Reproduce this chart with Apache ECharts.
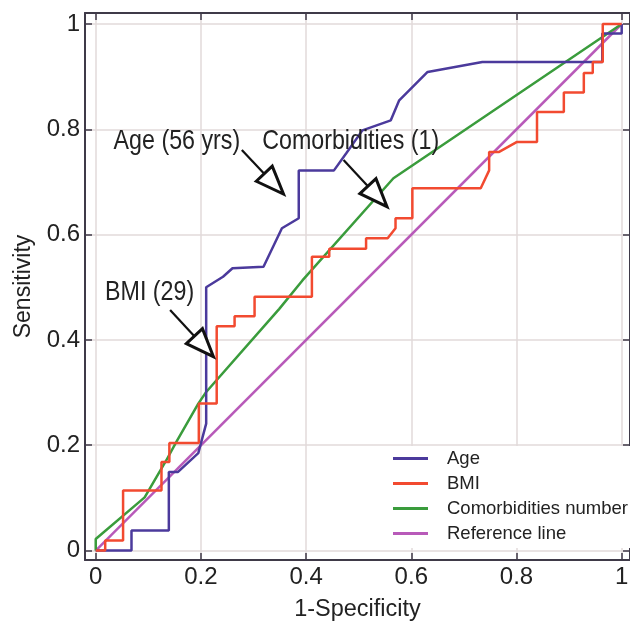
<!DOCTYPE html>
<html>
<head>
<meta charset="utf-8">
<script src="https://cdn.jsdelivr.net/npm/echarts@6/dist/echarts.min.js"></script>
<style>
  html, body { margin: 0; padding: 0; background: #fff; }
  #main { width: 630px; height: 623px; }
</style>
</head>
<body>
<div id="main"></div>
<script>
// ROC curves: 1-Specificity (x) vs Sensitivity (y)
const tickValues = [0, 0.2, 0.4, 0.6, 0.8, 1]

const ageX = [0, 0.068, 0.068, 0.139, 0.139, 0.156, 0.195, 0.21, 0.21, 0.242, 0.26, 0.319, 0.354, 0.386, 0.386, 0.453, 0.476, 0.507, 0.561, 0.577, 0.631, 0.735, 0.963, 0.963, 1, 1]
const ageY = [0, 0, 0.038, 0.038, 0.149, 0.149, 0.185, 0.241, 0.50, 0.52, 0.536, 0.539, 0.612, 0.631, 0.722, 0.722, 0.754, 0.798, 0.817, 0.855, 0.909, 0.928, 0.928, 0.982, 0.982, 1]

const bmiX = [0, 0.018, 0.018, 0.052, 0.052, 0.125, 0.125, 0.140, 0.140, 0.196, 0.196, 0.230, 0.230, 0.264, 0.264, 0.302, 0.302, 0.411, 0.411, 0.444, 0.444, 0.514, 0.514, 0.555, 0.570, 0.570, 0.602, 0.602, 0.732, 0.748, 0.748, 0.767, 0.801, 0.839, 0.839, 0.890, 0.890, 0.928, 0.928, 0.945, 0.945, 0.964, 0.964, 1]
const bmiY = [0, 0, 0.019, 0.019, 0.114, 0.114, 0.168, 0.168, 0.204, 0.204, 0.279, 0.279, 0.426, 0.426, 0.445, 0.445, 0.482, 0.482, 0.558, 0.558, 0.573, 0.573, 0.593, 0.593, 0.612, 0.631, 0.631, 0.688, 0.688, 0.722, 0.757, 0.757, 0.776, 0.776, 0.833, 0.833, 0.870, 0.870, 0.907, 0.907, 0.928, 0.928, 1, 1]

const comX = [0, 0, 0.093, 0.134, 0.153, 0.195, 0.21, 0.349, 0.393, 0.566, 1]
const comY = [0, 0.022, 0.101, 0.171, 0.206, 0.279, 0.301, 0.459, 0.513, 0.707, 1]

const refX = [0, 1]
const refY = [0, 1]

// annotations: label, label anchor, arrow start, arrow tip (data coords)
const noteLabels = ['Age (56 yrs)', 'Comorbidities (1)', 'BMI (29)']
const noteTextPos = [[0.2746, 0.778], [0.3165, 0.778], [0.0177, 0.49]]
const noteAlign = ['right', 'left', 'left']
const arrowStart = [[0.2778, 0.7607], [0.4712, 0.7417], [0.1414, 0.4568]]
const arrowTip = [[0.357, 0.6771], [0.5538, 0.653], [0.2238, 0.3681]]

const zip = (xs, ys) => xs.map((x, i) => [x, ys[i]])

const FONT = "'Liberation Sans', Arial, sans-serif"
const frameColor = '#3f3a48'
const gridColor = '#e2dada'

const chart = echarts.init(document.getElementById('main'))

const baseAxis = {
  type: 'value',
  axisLine: { show: true, onZero: false, lineStyle: { color: frameColor, width: 2 } },
  axisTick: { show: true, inside: true, length: 7, customValues: tickValues, lineStyle: { color: frameColor, width: 1.5 } }
}

chart.setOption({
  animation: false,
  grid: { left: 85, right: 0, top: 13, bottom: 63, outerBoundsMode: 'none', containLabel: false },
  xAxis: [
    Object.assign({}, baseAxis, {
      min: -0.0204,
      max: 1.0158,
      name: '1-Specificity',
      nameLocation: 'middle',
      nameGap: 38,
      nameTextStyle: { fontFamily: FONT, fontSize: 23.5, color: '#222' },
      axisLabel: { customValues: tickValues, margin: 5, fontFamily: FONT, fontSize: 24, color: '#222' },
      splitLine: { show: true, lineStyle: { color: gridColor, width: 1.5 } }
    }),
    Object.assign({}, baseAxis, {
      position: 'top', min: -0.0204, max: 1.0158,
      axisLabel: { show: false }, splitLine: { show: false }
    })
  ],
  yAxis: [
    Object.assign({}, baseAxis, {
      min: -0.018,
      max: 1.0209,
      name: 'Sensitivity',
      nameLocation: 'middle',
      nameRotate: 90,
      nameGap: 50,
      nameTextStyle: { fontFamily: FONT, fontSize: 23, color: '#222' },
      axisLabel: { customValues: tickValues, margin: 5, fontFamily: FONT, fontSize: 24, color: '#222' },
      splitLine: { show: true, lineStyle: { color: gridColor, width: 1.5 } }
    }),
    Object.assign({}, baseAxis, {
      position: 'right', min: -0.018, max: 1.0209,
      axisLabel: { show: false }, splitLine: { show: false }
    })
  ],
  legend: {
    orient: 'vertical',
    left: 383,
    top: 446,
    padding: [0, 4, 2, 10],
    backgroundColor: '#fff',
    icon: 'rect',
    itemWidth: 35,
    itemHeight: 3,
    itemGap: 0,
    itemStyle: { borderWidth: 0 },
    textStyle: { fontFamily: FONT, fontSize: 18.5, lineHeight: 25, color: '#222', padding: [0, 0, 0, 14] },
    data: ['Age', 'BMI', 'Comorbidities number', 'Reference line']
  },
  series: [
    { name: 'Age', type: 'line', showSymbol: false, data: zip(ageX, ageY), color: '#4b3a9c', lineStyle: { width: 2.5 }, z: 4 },
    { name: 'BMI', type: 'line', showSymbol: false, data: zip(bmiX, bmiY), color: '#f24a30', lineStyle: { width: 2.5 }, z: 5 },
    { name: 'Comorbidities number', type: 'line', showSymbol: false, data: zip(comX, comY), color: '#3a9c3c', lineStyle: { width: 2.5 }, z: 3 },
    { name: 'Reference line', type: 'line', showSymbol: false, data: zip(refX, refY), color: '#b85ab9', lineStyle: { width: 2.5 }, z: 2 }
  ]
})

// arrows with hollow heads + labels, placed from data coords
const toPx = p => chart.convertToPixel({ gridIndex: 0 }, p)
const graphics = []
noteLabels.forEach((label, i) => {
  const s = toPx(arrowStart[i])
  const t = toPx(arrowTip[i])
  const dx = t[0] - s[0], dy = t[1] - s[1]
  const len = Math.sqrt(dx * dx + dy * dy)
  const ux = dx / len, uy = dy / len
  const bx = t[0] - 28 * ux, by = t[1] - 28 * uy
  const nx = -uy, ny = ux
  graphics.push({
    type: 'line', z: 10,
    shape: { x1: s[0], y1: s[1], x2: bx, y2: by },
    style: { stroke: '#111', lineWidth: 2.2 }
  })
  graphics.push({
    type: 'polygon', z: 11,
    shape: { points: [[bx + 11 * nx, by + 11 * ny], [t[0], t[1]], [bx - 11 * nx, by - 11 * ny]] },
    style: { fill: '#fff', stroke: '#111', lineWidth: 3, lineJoin: 'miter' }
  })
  const p = toPx(noteTextPos[i])
  graphics.push({
    type: 'text', z: 12, x: p[0], y: p[1], scaleX: 0.83,
    style: { text: label, fontFamily: FONT, fontSize: 28, fill: '#222', textAlign: noteAlign[i], textVerticalAlign: 'middle', align: noteAlign[i], verticalAlign: 'middle' }
  })
})
chart.setOption({ graphic: graphics })
</script>
</body>
</html>
